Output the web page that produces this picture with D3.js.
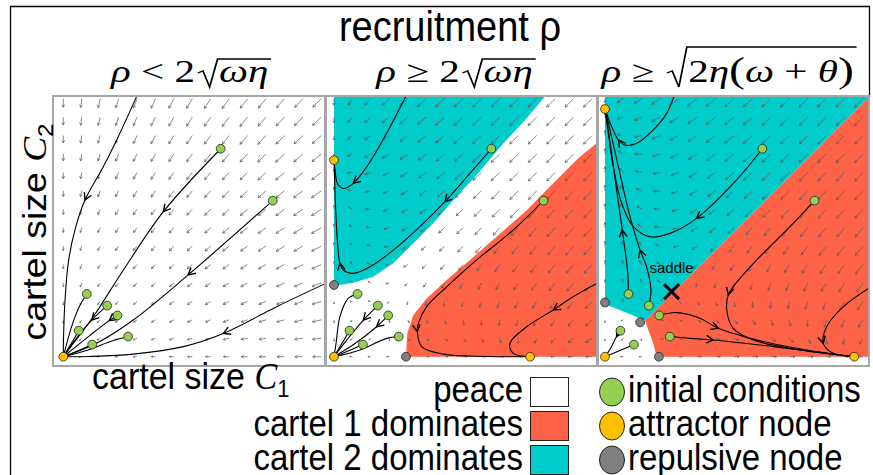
<!DOCTYPE html>
<html><head><meta charset="utf-8">
<script src="https://cdn.jsdelivr.net/npm/d3@7"></script>
<style>body{margin:0;background:#fff}svg{display:block}</style>
</head><body>
<svg id="c" width="873" height="475"></svg>
<script>
// ---------------- data ----------------
const titleText = "recruitment ρ";
const xLabel = ["cartel size ", "C", "1"];
const yLabel = ["cartel size ", "C", "2"];
// panel condition titles: [pre-root parts, radicand parts]
const condPre = [
  [["ρ",1],[" < 2",0]],
  [["ρ",1],[" ≥ 2",0]],
  [["ρ",1],[" ≥ ",0]]
];
const condRad = [
  [["ωη",1]],
  [["ωη",1]],
  [["2",0],["η",1],["(",2],["ω",1],[" + ",0],["θ",1],[")",2]]
];
// model parameters used for the direction field of each panel
const omega = [0.25, 0.209, 0.198];
const rho   = [0.70, 1.035, 1.17];
const alpha = [0.30, 1.08, 1.08];
const beta  = [1.00, 1.82, 1.82];
const gammaC= [1.00, 3.00, 3.00];

// initial conditions (shared by all panels)
const initialConditions = [[0.61,0.806],[0.812,0.605],[0.091,0.243],[0.17,0.198],[0.21,0.16],[0.06,0.101],[0.112,0.047],[0.251,0.078]];
const attractors = [
  [[0,0]],
  [[0,0],[0,0.762],[0.76,0]],
  [[0,0],[0,0.96],[0.966,0]]
];
const repulsive = [
  [],
  [[0,0.278],[0.279,0]],
  [[0,0.21],[0.209,0],[0.136,0.133]]
];
const saddles = [[],[],[[0.258,0.252]]];
const saddleLabel = "saddle";

// basins of attraction (region outlines)
const regions = [
  [],
  [
    {type:"c2", pts:[[0,1.02],[0.827,1.02],[0.747,0.924],[0.65,0.82],[0.553,0.704],[0.463,0.607],[0.385,0.517],[0.307,0.439],[0.23,0.362],[0.152,0.31],[0.075,0.287],[0.023,0.278],[0,0.274]]},
    {type:"c1", pts:[[1.04,0.827],[1.018,0.827],[0.953,0.775],[0.85,0.672],[0.747,0.568],[0.63,0.465],[0.527,0.375],[0.437,0.297],[0.359,0.226],[0.307,0.161],[0.284,0.09],[0.279,0],[1.04,0]]}
  ],
  [
    {type:"c2", pts:[[0,1.02],[1.03,1.02],[1.03,1.012],[0.155,0.14],[0.1,0.164],[0.05,0.184],[0.006,0.2],[0,0.205]]},
    {type:"c1", pts:[[1.04,1.02],[1.04,0],[0.2,0],[0.187,0.052],[0.168,0.103],[0.155,0.14],[1.03,1.012],[1.03,1.02]]}
  ]
];

// trajectories: p = points, a = indices carrying a direction chevron
const trajectories = [
  [
    {p:[[0.284,1.008],[0.207,0.84],[0.155,0.736],[0.084,0.607],[0.045,0.491],[0.019,0.362],[0.006,0.207],[0.001,0.078],[0,0]], a:[3]},
    {p:[[0.61,0.806],[0.388,0.562],[0.233,0.336],[0.116,0.155],[0.039,0.052],[0,0]], a:[1]},
    {p:[[0.812,0.605],[0.484,0.317],[0.271,0.142],[0.129,0.052],[0,0]], a:[1]},
    {p:[[1.03,0.29],[0.827,0.194],[0.62,0.09],[0.465,0.039],[0.271,0.01],[0.103,0.001],[0,0]], a:[2]},
    {p:[[0.091,0.243],[0.06,0.19],[0.03,0.11],[0,0]], a:[]},
    {p:[[0.17,0.198],[0.11,0.142],[0.05,0.07],[0,0]], a:[1]},
    {p:[[0.21,0.16],[0.178,0.14],[0.1,0.08],[0,0]], a:[1]},
    {p:[[0.06,0.101],[0.03,0.05],[0,0]], a:[]},
    {p:[[0.112,0.047],[0.05,0.02],[0,0]], a:[]},
    {p:[[0.251,0.078],[0.18,0.058],[0.09,0.024],[0,0]], a:[]}
  ],
  [
    {p:[[0.284,1.02],[0.204,0.866],[0.127,0.736],[0.075,0.672],[0.036,0.652],[0.013,0.672],[0.004,0.724],[0,0.762]], a:[3]},
    {p:[[0.61,0.806],[0.527,0.711],[0.43,0.601],[0.333,0.504],[0.23,0.413],[0.14,0.349],[0.075,0.323],[0.036,0.336],[0.023,0.362],[0.013,0.452],[0.005,0.607],[0,0.762]], a:[2,8]},
    {p:[[0.812,0.605],[0.695,0.491],[0.553,0.375],[0.437,0.271],[0.359,0.194],[0.327,0.129],[0.323,0.097],[0.34,0.039],[0.424,0.01],[0.592,0.001],[0.76,0]], a:[6]},
    {p:[[1.03,0.29],[0.928,0.233],[0.85,0.181],[0.747,0.116],[0.682,0.052],[0.695,0.013],[0.76,0]], a:[2]},
    {p:[[0.091,0.243],[0.055,0.226],[0.023,0.155],[0.008,0.052],[0,0]], a:[]},
    {p:[[0.17,0.198],[0.114,0.142],[0.05,0.065],[0,0]], a:[1]},
    {p:[[0.21,0.16],[0.165,0.116],[0.08,0.05],[0,0]], a:[1]},
    {p:[[0.06,0.101],[0.03,0.05],[0,0]], a:[]},
    {p:[[0.112,0.047],[0.05,0.02],[0,0]], a:[]},
    {p:[[0.251,0.078],[0.204,0.071],[0.101,0.026],[0,0]], a:[]}
  ],
  [
    {p:[[0.271,1.02],[0.239,0.943],[0.187,0.879],[0.123,0.827],[0.078,0.82],[0.052,0.84],[0.026,0.891],[0,0.96]], a:[5]},
    {p:[[0.61,0.806],[0.51,0.685],[0.355,0.536],[0.252,0.478],[0.174,0.465],[0.11,0.504],[0.065,0.594],[0.032,0.736],[0.013,0.866],[0,0.96]], a:[2]},
    {p:[[0.091,0.243],[0.087,0.336],[0.067,0.491],[0.045,0.646],[0.022,0.814],[0,0.96]], a:[2]},
    {p:[[0.17,0.198],[0.178,0.258],[0.161,0.349],[0.136,0.413],[0.097,0.543],[0.052,0.736],[0.019,0.879],[0,0.96]], a:[3]},
    {p:[[0.812,0.605],[0.717,0.504],[0.588,0.375],[0.497,0.271],[0.478,0.24],[0.472,0.181],[0.497,0.11],[0.575,0.065],[0.743,0.028],[0.966,0]], a:[4]},
    {p:[[1.03,0.27],[0.924,0.194],[0.859,0.116],[0.846,0.052],[0.885,0.013],[0.966,0]], a:[3]},
    {p:[[0.21,0.16],[0.278,0.171],[0.368,0.149],[0.439,0.11],[0.588,0.065],[0.782,0.026],[0.966,0]], a:[3]},
    {p:[[0.251,0.078],[0.329,0.071],[0.42,0.065],[0.652,0.039],[0.966,0]], a:[2]},
    {p:[[0.06,0.101],[0.045,0.078],[0.02,0.03],[0,0]], a:[1]},
    {p:[[0.112,0.047],[0.06,0.025],[0,0]], a:[]}
  ]
];

const legendRegions = [
  {label:"peace", type:"peace"},
  {label:"cartel 1 dominates", type:"c1"},
  {label:"cartel 2 dominates", type:"c2"}
];
const legendNodes = [
  {label:"initial conditions", type:"init"},
  {label:"attractor node", type:"attr"},
  {label:"repulsive node", type:"rep"}
];

// ---------------- styling / layout ----------------
const colors = {peace:"#ffffff", c1:"#ff6347", c2:"#00cccc", init:"#92d050", attr:"#ffc000", rep:"#808080"};
const fontSans = '"Liberation Sans", Arial, sans-serif';
const fontSerif = '"Liberation Serif", "Times New Roman", serif';
const frameLeft = [53, 326, 598], frameTop = 96, frameW = [272, 271, 271], frameH = 270;
const originX = [63.3, 334, 605], originY = 356.7, unit = 258;
const gridN = 15;
const vStretch = 1.1;   // the figure's text is drawn slightly tall

const svg = d3.select("#c");

// outer frame
svg.append("path").attr("d","M10.5,475V6.5H869.5V97").attr("fill","none").attr("stroke","#000").attr("stroke-width",1.3);

function tallText(x, y, size, anchor){
  return svg.append("text").attr("transform",`translate(${x},${y}) scale(1,${vStretch})`)
    .attr("text-anchor",anchor||"start").style("font-family",fontSans).style("font-size",size+"px");
}

// main title
tallText(450, 41, 38, "middle").text(titleText);

function field(k, c1, c2){
  const g1 = -omega[k] + rho[k]*c1 + alpha[k]*c2 - c1*c1 - beta[k]*c1*c2 - gammaC[k]*c2*c2;
  const g2 = -omega[k] + rho[k]*c2 + alpha[k]*c1 - c2*c2 - beta[k]*c1*c2 - gammaC[k]*c1*c1;
  return [c1*g1, c2*g2];
}

function chevron(sel, tip, dir, len, ang, color, width){
  const a = Math.atan2(dir[1], dir[0]);
  const p1 = [tip[0]-len*Math.cos(a-ang), tip[1]-len*Math.sin(a-ang)];
  const p2 = [tip[0]-len*Math.cos(a+ang), tip[1]-len*Math.sin(a+ang)];
  sel.append("path").attr("d",`M${p1[0]},${p1[1]}L${tip[0]},${tip[1]}L${p2[0]},${p2[1]}`)
    .attr("fill","none").attr("stroke",color).attr("stroke-width",width);
}

const gridVals = d3.range(gridN).map(i => i/(gridN-1));

[0,1,2].forEach(k => {
  const x = d3.scaleLinear().domain([0,1]).range([originX[k], originX[k]+unit]);
  const y = d3.scaleLinear().domain([0,1]).range([originY, originY-unit]);
  const g = svg.append("g");
  const clipId = "clip"+k;
  svg.append("clipPath").attr("id",clipId).append("rect")
    .attr("x",frameLeft[k]).attr("y",frameTop).attr("width",frameW[k]).attr("height",frameH);
  const inner = g.append("g").attr("clip-path",`url(#${clipId})`);
  inner.append("rect").attr("x",frameLeft[k]).attr("y",frameTop).attr("width",frameW[k]).attr("height",frameH).attr("fill","#fff");

  // regions
  const line = d3.line().x(d=>x(d[0])).y(d=>y(d[1]));
  regions[k].forEach(r => {
    inner.append("path").attr("d", line(r.pts)+"Z").attr("fill", colors[r.type]);
  });

  // direction field
  const vecs = [];
  gridVals.forEach(c1 => gridVals.forEach(c2 => {
    if (c1===0 && c2===0) return;
    const f = field(k,c1,c2);
    vecs.push({c1,c2,f,m:Math.hypot(f[0],f[1])});
  }));
  const mref = d3.median(vecs, d=>d.m);
  const fg = inner.append("g");
  vecs.forEach(v => {
    if (v.m === 0) return;
    const dx = v.f[0]/v.m, dy = -v.f[1]/v.m;
    const len = Math.max(2.5, Math.min(12, 8*Math.pow(v.m/mref, 0.3)));
    const x0 = x(v.c1), y0 = y(v.c2);
    const x1 = x0 + dx*len, y1 = y0 + dy*len;
    fg.append("line").attr("x1",x0).attr("y1",y0).attr("x2",x1).attr("y2",y1)
      .attr("stroke","#5a5a5a").attr("stroke-width",0.7);
    chevron(fg, [x1,y1], [dx,dy], Math.min(3, len*0.45), 0.5, "#5a5a5a", 0.7);
  });

  // trajectories
  const curve = d3.line().x(d=>x(d[0])).y(d=>y(d[1])).curve(d3.curveCatmullRom.alpha(0.5));
  const tg = inner.append("g");
  trajectories[k].forEach(t => {
    tg.append("path").attr("d", curve(t.p)).attr("fill","none").attr("stroke","#000").attr("stroke-width",1.1);
    t.a.forEach(i => {
      const prev = t.p[Math.max(0,i-1)], next = t.p[Math.min(t.p.length-1,i+1)];
      const dir = [x(next[0])-x(prev[0]), y(next[1])-y(prev[1])];
      chevron(tg, [x(t.p[i][0]), y(t.p[i][1])], dir, 8, 0.5, "#000", 1.4);
    });
  });

  // nodes
  const ng = g.append("g");
  const nodeR = 4.4;
  initialConditions.forEach(d => ng.append("circle").attr("cx",x(d[0])).attr("cy",y(d[1])).attr("r",nodeR)
    .attr("fill",colors.init).attr("stroke","#222").attr("stroke-width",0.8));
  attractors[k].forEach(d => ng.append("circle").attr("cx",x(d[0])).attr("cy",y(d[1])).attr("r",nodeR)
    .attr("fill",colors.attr).attr("stroke","#222").attr("stroke-width",0.8));
  repulsive[k].forEach(d => ng.append("circle").attr("cx",x(d[0])).attr("cy",y(d[1])).attr("r",nodeR)
    .attr("fill",colors.rep).attr("stroke","#222").attr("stroke-width",0.8));
  saddles[k].forEach(d => {
    const sx = x(d[0]), sy = y(d[1]), s = 7.5;
    ng.append("path").attr("d",`M${sx-s},${sy-s}L${sx+s},${sy+s}M${sx-s},${sy+s}L${sx+s},${sy-s}`)
      .attr("stroke","#000").attr("stroke-width",3);
    ng.append("text").attr("x",sx).attr("y",sy-19).attr("text-anchor","middle")
      .style("font-family",fontSans).style("font-size","15px").text(saddleLabel);
  });

  // frame
  g.append("rect").attr("x",frameLeft[k]).attr("y",frameTop).attr("width",frameW[k]).attr("height",frameH)
    .attr("fill","none").attr("stroke","#a6a6a6").attr("stroke-width",2);
});

// condition titles (math)
const condCenter = [191, 456, 729];
const condBase = 82;
const condSize = 31;
const mathGroups = [];
[0,1,2].forEach(k => {
  const g = svg.append("g");
  let cx = 0;
  const addSeg = (s) => {
    const t = g.append("text").attr("x",cx).attr("y",condBase)
      .style("font-family",fontSerif).style("font-size",(s[1]===2? 36: condSize)+"px")
      .style("font-style", s[1]===1 ? "italic" : "normal").attr("xml:space","preserve").text(s[0]);
    cx += t.node().getComputedTextLength();
  };
  condPre[k].forEach(addSeg);
  const r0 = cx + 2;
  const top = k===2 ? condBase-35 : condBase-23;
  cx = r0 + 16;
  condRad[k].forEach(addSeg);
  const rEnd = cx + 2;
  g.append("path").attr("d",`M${r0},${condBase-9}L${r0+4},${condBase-11}L${r0+9},${condBase+5}L${r0+15},${top}H${rEnd}`)
    .attr("fill","none").attr("stroke","#000").attr("stroke-width",1.3);
  mathGroups.push({g, w: rEnd});
});
const mathScale = 160 / mathGroups[0].w;
mathGroups.forEach((m,k) => {
  m.g.attr("transform",`translate(${condCenter[k]-m.w*mathScale/2},0) scale(${mathScale},1)`);
});

// axis labels
const xl = tallText(92, 389, 34);
xl.append("tspan").attr("xml:space","preserve").text(xLabel[0]);
xl.append("tspan").style("font-family",fontSerif).style("font-style","italic").text(xLabel[1]);
xl.append("tspan").style("font-size","22px").attr("dy",7).text(xLabel[2]);

const yl = svg.append("text").attr("transform",`translate(46,232) rotate(-90) scale(${vStretch},1)`).attr("text-anchor","middle")
  .style("font-family",fontSans).style("font-size","34px");
yl.append("tspan").attr("xml:space","preserve").text(yLabel[0]);
yl.append("tspan").style("font-family",fontSerif).style("font-style","italic").text(yLabel[1]);
yl.append("tspan").style("font-size","22px").attr("dy",7).text(yLabel[2]);

// legend
const legRowY = [392, 426, 460];
legendRegions.forEach((d,i) => {
  tallText(523, legRowY[i]+10, 33, "end").text(d.label);
  svg.append("rect").attr("x",530.5).attr("y",legRowY[i]-14.5).attr("width",38).attr("height",29)
    .attr("fill",colors[d.type]).attr("stroke","#222").attr("stroke-width",1);
});
legendNodes.forEach((d,i) => {
  svg.append("ellipse").attr("cx",612).attr("cy",legRowY[i]).attr("rx",12.5).attr("ry",14)
    .attr("fill",colors[d.type]).attr("stroke","#222").attr("stroke-width",1);
  tallText(628, legRowY[i]+10, 33).text(d.label);
});
</script>
</body></html>
